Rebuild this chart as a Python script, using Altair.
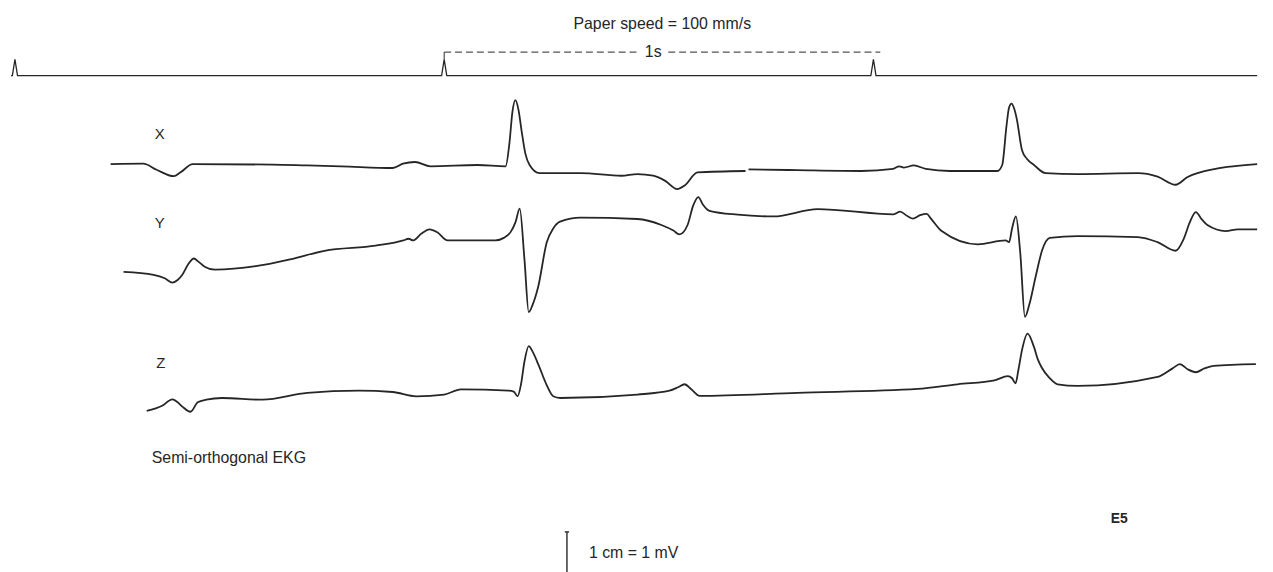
import altair as alt
import pandas as pd

# ---------------- data ----------------
# time in ms after the first timer mark (paper speed 100 mm/s), amplitude in mV
timer_marks_ms = [0, 1000, 2000]

x_time = [223, 299, 330, 370, 386, 414, 600, 681, 760, 880,
          904, 932, 968, 1078, 1143, 1152, 1159, 1166, 1173, 1181,
          1189, 1199, 1222, 1318, 1413, 1450, 1487, 1515, 1543, 1561,
          1590, 1702,
          1709, 1822, 1972, 2046, 2060, 2071, 2094, 2122, 2178, 2289,
          2300, 2310, 2316, 2322, 2328, 2334, 2346, 2358, 2374, 2401,
          2476, 2616, 2662, 2704, 2732, 2755, 2894]
x_mv = [0.00, 0.01, -0.13, -0.28, -0.19, 0.00, -0.01, -0.03, -0.05, -0.09,
        0.01, 0.05, -0.05, -0.02, -0.05, 0.49, 1.22, 1.49, 1.27, 0.73,
        0.25, -0.02, -0.21, -0.21, -0.27, -0.23, -0.27, -0.39, -0.58, -0.49,
        -0.19, -0.16,
        -0.12, -0.14, -0.16, -0.11, -0.05, -0.08, -0.03, -0.11, -0.16, -0.16,
        -0.02, 0.89, 1.32, 1.41, 1.29, 1.05, 0.33, 0.12, -0.02, -0.21,
        -0.23, -0.21, -0.29, -0.48, -0.30, -0.21, 0.00]
x_segment = [0] * 32 + [1] * 27   # the X pen trace has a short break

y_time = [253, 323, 349, 367, 379, 390, 404, 417, 427, 442,
          466, 561, 641, 721, 840, 905, 917, 928, 947, 966,
          984, 1008, 1119, 1139, 1155, 1166, 1176, 1187, 1197, 1206,
          1219, 1239, 1254, 1270, 1318, 1450, 1506, 1534, 1548, 1567,
          1580, 1592, 1603, 1618, 1684, 1767, 1870, 2047, 2062, 2079,
          2092, 2109, 2124, 2134, 2159, 2243, 2308, 2316, 2323, 2332,
          2342, 2353, 2363, 2378, 2393, 2411, 2476, 2616, 2662, 2704,
          2723, 2737, 2751, 2765, 2778, 2821, 2849, 2894]
y_mv = [-0.73, -0.80, -0.88, -0.98, -0.92, -0.80, -0.55, -0.42, -0.49, -0.61,
        -0.68, -0.60, -0.44, -0.24, -0.12, 0.00, 0.04, 0.00, 0.16, 0.26,
        0.19, 0.00, 0.00, 0.06, 0.20, 0.42, 0.74, -0.44, -1.67, -1.50,
        -1.08, -0.04, 0.28, 0.44, 0.53, 0.50, 0.36, 0.23, 0.14, 0.36,
        0.81, 1.01, 0.83, 0.69, 0.60, 0.56, 0.73, 0.61, 0.67, 0.57,
        0.51, 0.59, 0.62, 0.51, 0.22, -0.09, 0.00, -0.04, 0.28, 0.56,
        -0.28, -1.78, -1.50, -0.84, -0.23, 0.06, 0.10, 0.08, -0.04, -0.24,
        0.04, 0.42, 0.66, 0.49, 0.36, 0.22, 0.26, 0.26]

z_time = [307, 343, 367, 379, 390, 409, 426, 446, 482, 577,
          681, 801, 880, 935, 1000, 1039, 1150, 1162, 1171, 1179,
          1187, 1197, 1206, 1219, 1238, 1254, 1270, 1450, 1525, 1545,
          1560, 1575, 1595, 1823, 2103, 2196, 2282, 2313, 2323, 2331,
          2338, 2346, 2359, 2374, 2383, 2392, 2409, 2429, 2476, 2662,
          2697, 2714, 2732, 2751, 2771, 2792, 2891]
z_mv = [-0.39, -0.27, -0.12, -0.19, -0.29, -0.41, -0.19, -0.13, -0.09, -0.13,
        0.03, 0.08, 0.05, -0.05, -0.01, 0.11, 0.08, 0.06, -0.05, 0.23,
        0.76, 1.12, 0.99, 0.70, 0.23, -0.05, -0.09, -0.01, 0.08, 0.16,
        0.23, 0.12, -0.04, 0.03, 0.12, 0.23, 0.32, 0.42, 0.37, 0.25,
        0.58, 1.02, 1.41, 1.10, 0.81, 0.62, 0.39, 0.23, 0.19, 0.40,
        0.60, 0.70, 0.58, 0.51, 0.60, 0.66, 0.70]

# ---------------- layout ----------------
W, H = 1265, 564
PX_PER_MS = 0.433          # 100 mm/s -> 4.33 px per mm
PX_PER_CM = 43.3           # 1 cm = 1 mV
T0 = -4 / PX_PER_MS
T1 = T0 + W / PX_PER_MS
DEPTH = H / PX_PER_CM
TRACE_END = 2894

# distance (cm) of each baseline below the top of the plot
base_cm = {"timer": 1.520, "X": 3.580, "Y": 5.358, "Z": 8.938}
SPIKE_H = 0.38      # timer pen deflection (cm)
SPIKE_HALF = 6      # ms
BRACKET_H = 0.55    # bracket level above timer baseline (cm)

INK = "#262626"
FONT = "Liberation Sans"

xs = alt.Scale(domain=[T0, T1], nice=False, zero=False)
ys = alt.Scale(domain=[-DEPTH, 0], nice=False, zero=False)

rows = []
for lead, ts, vs, segs in [("X", x_time, x_mv, x_segment),
                           ("Y", y_time, y_mv, [0] * len(y_time)),
                           ("Z", z_time, z_mv, [0] * len(z_time))]:
    for t, v, s in zip(ts, vs, segs):
        rows.append({"seg": f"{lead}{s}", "t": t, "pos": v - base_cm[lead]})
traces = pd.DataFrame(rows)

tb = -base_cm["timer"]
timer_rows = [{"t": T0, "pos": tb}]
for m in timer_marks_ms:
    timer_rows += [{"t": m - SPIKE_HALF, "pos": tb},
                   {"t": m, "pos": tb + SPIKE_H},
                   {"t": m + SPIKE_HALF, "pos": tb}]
timer_rows.append({"t": TRACE_END, "pos": tb})
timer = pd.DataFrame(timer_rows)

X = lambda f: alt.X(f, scale=xs, axis=None)
Y = lambda f: alt.Y(f, scale=ys, axis=None)

trace_layer = alt.Chart(traces).mark_line(
    interpolate="monotone", color=INK, strokeWidth=1.8
).encode(x=X("t:Q"), y=Y("pos:Q"), detail="seg:N", order="t:Q")

timer_layer = alt.Chart(timer).mark_line(color=INK, strokeWidth=1.3).encode(
    x=X("t:Q"), y=Y("pos:Q"), order="t:Q")

bracket_v = alt.Chart(pd.DataFrame({"t": [timer_marks_ms[1]],
                                    "y0": [tb + SPIKE_H],
                                    "y1": [tb + BRACKET_H]})).mark_rule(
    color=INK, strokeWidth=1).encode(x=X("t:Q"), y=Y("y0:Q"), y2="y1:Q")

bracket_h = alt.Chart(pd.DataFrame({"a": [1000, 1522],
                                    "b": [1452, 2016],
                                    "y": [tb + BRACKET_H] * 2})).mark_rule(
    color=INK, strokeWidth=1, strokeDash=[7, 4]).encode(
    x=X("a:Q"), x2="b:Q", y=Y("y:Q"))

one_label = alt.Chart(pd.DataFrame({"t": [1487], "y": [tb + BRACKET_H], "s": ["1s"]})).mark_text(
    font=FONT, fontSize=16, color=INK, align="center", baseline="middle").encode(
    x=X("t:Q"), y=Y("y:Q"), text="s:N")

# 1 cm = 1 mV calibration bar
CAL_T = 1286
CAL_TOP = -12.148
cal_bar = alt.Chart(pd.DataFrame({"t": [CAL_T], "y0": [CAL_TOP], "y1": [CAL_TOP - 1.0]})).mark_rule(
    color=INK, strokeWidth=1.4).encode(x=X("t:Q"), y=Y("y0:Q"), y2="y1:Q")
cal_cap = alt.Chart(pd.DataFrame({"a": [CAL_T - 5], "b": [CAL_T + 5], "y": [CAL_TOP]})).mark_rule(
    color=INK, strokeWidth=1.4).encode(x=X("a:Q"), x2="b:Q", y=Y("y:Q"))

def label(text, px, py, size=16, align="left", weight="normal"):
    return alt.Chart(pd.DataFrame({"a": [0]})).mark_text(
        font=FONT, fontSize=size, color=INK, align=align, baseline="middle",
        fontWeight=weight
    ).encode(x=alt.value(px), y=alt.value(py), text=alt.value(text))

texts = [
    label("Paper speed = 100 mm/s", 657, 14, align="center"),
    label("X", 150, 125, size=15, align="center"),
    label("Y", 150, 214, size=15, align="center"),
    label("Z", 151, 356, size=15, align="center"),
    label("Semi-orthogonal EKG", 142, 451),
    label("E5", 1118, 513, size=14, align="center", weight="bold"),
    label("1 cm = 1 mV", 583, 547),
]

chart = alt.layer(timer_layer, bracket_v, bracket_h, one_label, trace_layer,
                  cal_bar, cal_cap, *texts).properties(
    width=W, height=H, padding=0, background="white"
).configure_view(strokeWidth=0)

chart.save("out.html", embed_options={"renderer": "svg", "actions": False})
